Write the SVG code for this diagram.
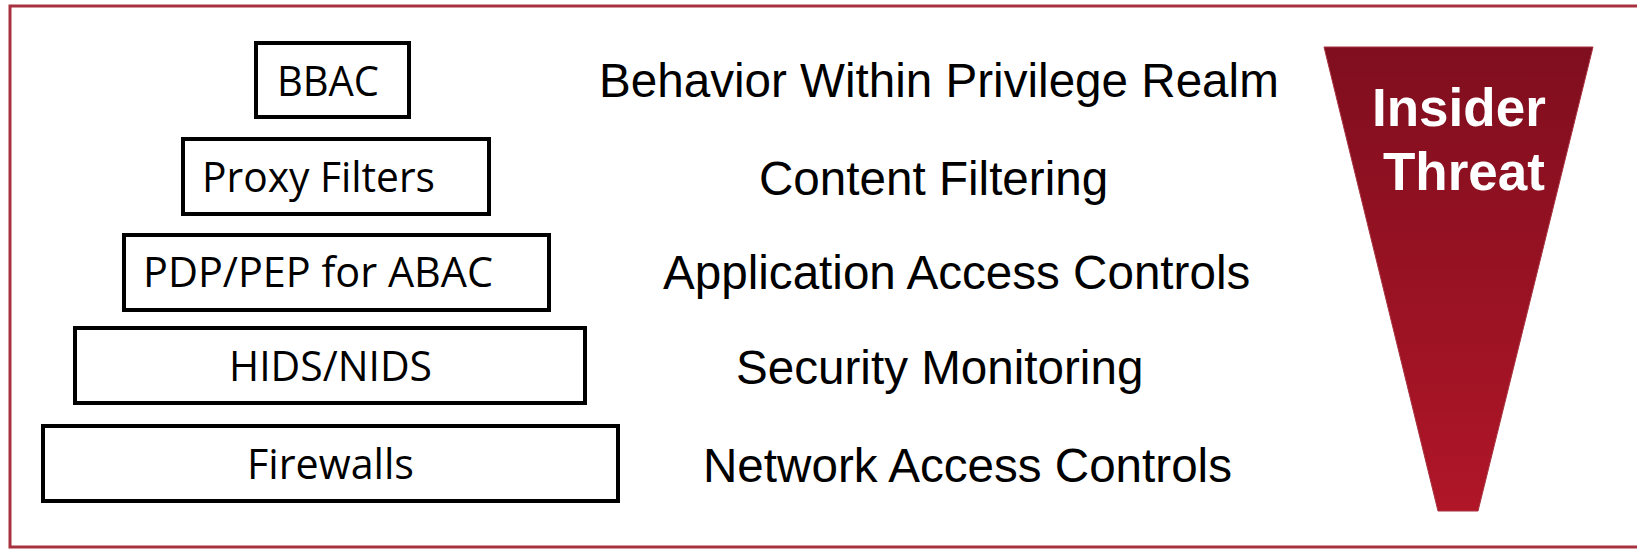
<svg xmlns="http://www.w3.org/2000/svg" width="1637" height="549" viewBox="0 0 1637 549">
<style>
.box{fill:#fff;stroke:#000;stroke-width:4}
.bt{font-family:"Open Sans","Noto Sans",sans-serif;font-size:42px;fill:#000}
.lt{font-family:"Liberation Sans",Arial,sans-serif;font-size:47.6px;fill:#000}
.it{font-family:"Liberation Sans",Arial,sans-serif;font-size:53px;font-weight:bold;fill:#fff}
</style>
<defs>
<linearGradient id="g" x1="0" y1="0" x2="0" y2="1">
<stop offset="0" stop-color="#7f0e1e"/>
<stop offset="1" stop-color="#b01628"/>
</linearGradient>
</defs>
<rect x="0" y="0" width="1637" height="549" fill="#fff"/>
<rect x="10" y="6" width="1660" height="541" fill="none" stroke="#a8313f" stroke-width="3"/>
<g id="connectors"/>
<g id="bbac"><rect class="box" x="256" y="43" width="153" height="74"/><text class="bt" x="277" y="96" textLength="102" lengthAdjust="spacingAndGlyphs">BBAC</text></g>
<g id="proxy"><rect class="box" x="183" y="139" width="306" height="75"/><text class="bt" x="202" y="192" textLength="233" lengthAdjust="spacingAndGlyphs">Proxy Filters</text></g>
<g id="pdp"><rect class="box" x="124" y="235" width="425" height="75"/><text class="bt" x="143" y="287" textLength="350" lengthAdjust="spacingAndGlyphs">PDP/PEP for ABAC</text></g>
<g id="hids"><rect class="box" x="75" y="328" width="510" height="75"/><text class="bt" x="229" y="381" textLength="203" lengthAdjust="spacingAndGlyphs">HIDS/NIDS</text></g>
<g id="firewalls"><rect class="box" x="43" y="426" width="575" height="75"/><text class="bt" x="247" y="479" textLength="167" lengthAdjust="spacingAndGlyphs">Firewalls</text></g>
<g id="labels">
<text class="lt" x="599" y="97">Behavior Within Privilege Realm</text>
<text class="lt" x="759" y="195">Content Filtering</text>
<text class="lt" x="663" y="289">Application Access Controls</text>
<text class="lt" x="736" y="384">Security Monitoring</text>
<text class="lt" x="703" y="482">Network Access Controls</text>
</g>
<g id="insider-threat">
<polygon points="1324,47 1593,47 1478,511 1438,511" fill="url(#g)" stroke="#a83240" stroke-width="1"/>
<text class="it" x="1372" y="126">Insider</text>
<text class="it" x="1383" y="190">Threat</text>
</g>
</svg>
